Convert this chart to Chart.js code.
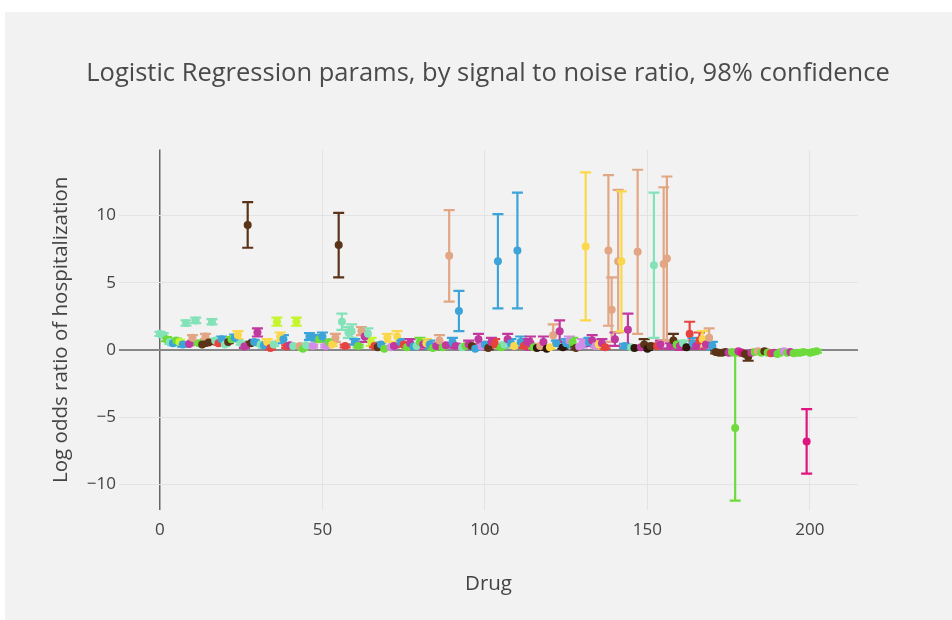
<!DOCTYPE html>
<html>
<head>
<meta charset="utf-8">
<script src="https://cdn.jsdelivr.net/npm/chart.js@4"></script>
<style>
  html, body { margin: 0; padding: 0; background: #fff; }
  #wrap { width: 952px; height: 620px; }
</style>
</head>
<body>
<div id="wrap"><canvas id="oddsChart" width="952" height="620"></canvas></div>
<script>
// drug index along x
const drugs = [
  0, 1, 2, 3, 4, 5, 6, 7, 8, 9, 10, 11, 12, 13, 14, 15, 16, 17, 18, 19,
  20, 21, 22, 23, 24, 25, 26, 27, 28, 29, 30, 31, 32, 33, 34, 35, 36, 37, 38, 39,
  40, 41, 42, 43, 44, 45, 46, 47, 48, 49, 50, 51, 52, 53, 54, 55, 56, 57, 58, 59,
  60, 61, 62, 63, 64, 65, 66, 67, 68, 69, 70, 71, 72, 73, 74, 75, 76, 77, 78, 79,
  80, 81, 82, 83, 84, 85, 86, 87, 88, 89, 90, 91, 92, 93, 94, 95, 96, 97, 98, 99,
  100, 101, 102, 103, 104, 105, 106, 107, 108, 109, 110, 111, 112, 113, 114, 115, 116, 117, 118, 119,
  120, 121, 122, 123, 124, 125, 126, 127, 128, 129, 130, 131, 132, 133, 134, 135, 136, 137, 138, 139,
  140, 141, 142, 143, 144, 145, 146, 147, 148, 149, 150, 151, 152, 153, 154, 155, 156, 157, 158, 159,
  160, 161, 162, 163, 164, 165, 166, 167, 168, 169, 170, 171, 172, 173, 174, 175, 176, 177, 178, 179,
  180, 181, 182, 183, 184, 185, 186, 187, 188, 189, 190, 191, 192, 193, 194, 195, 196, 197, 198, 199,
  200, 201, 202
];

// log odds estimate per drug
const logOdds = [
  1.2, 1.1, 0.8, 0.6, 0.5, 0.7, 0.6, 0.4, 2.0, 0.45, 0.9, 2.2, 0.5, 0.4, 1.0, 0.55, 2.1, 0.7, 0.5, 0.8,
  0.4, 0.6, 0.8, 0.9, 1.1, 0.5, 0.25, 9.3, 0.5, 0.6, 1.3, 0.4, 0.35, 0.6, 0.15, 0.4, 2.1, 1.0, 0.8, 0.25,
  0.35, 0.3, 2.1, 0.3, 0.1, 0.35, 1.0, 0.3, 0.9, 0.8, 1.0, 0.3, 0.6, 0.4, 0.9, 7.8, 2.1, 0.3, 1.3, 1.4,
  0.6, 0.3, 1.4, 1.0, 1.2, 0.6, 0.3, 0.2, 0.4, 0.1, 0.9, 0.2, 0.3, 1.0, 0.6, 0.4, 0.2, 0.5, 0.25, 0.3,
  0.6, 0.4, 0.5, 0.4, 0.15, 0.3, 0.7, 0.2, 0.35, 7.0, 0.6, 0.3, 2.9, 0.2, 0.3, 0.4, 0.3, 0.1, 0.8, 0.25,
  0.4, 0.15, 0.6, 0.5, 6.6, 0.2, 0.4, 0.8, 0.5, 0.3, 7.4, 0.6, 0.3, 0.6, 0.5, 0.2, 0.15, 0.3, 0.6, 0.1,
  0.2, 1.1, 0.5, 1.4, 0.2, 0.5, 0.7, 0.6, 0.15, 0.25, 0.5, 7.7, 0.6, 0.7, 0.3, 0.4, 0.5, 0.2, 7.4, 3.0,
  0.8, 6.6, 6.6, 0.3, 1.5, 0.2, 0.15, 7.3, 0.2, 0.4, 0.1, 0.3, 6.3, 0.3, 0.4, 6.4, 6.8, 0.3, 0.7, 0.4,
  0.3, 0.5, 0.2, 1.2, 0.5, 0.3, 0.7, 0.8, 0.4, 0.9, 0.3, -0.15, -0.2, -0.2, -0.15, -0.2, -0.15, -5.8, -0.1, -0.2,
  -0.3, -0.5, -0.2, -0.15, -0.1, -0.2, -0.1, -0.2, -0.25, -0.2, -0.3, -0.15, -0.1, -0.2, -0.15, -0.25, -0.2, -0.2, -0.15, -6.8,
  -0.2, -0.15, -0.1
];

// half width of the 98% interval
const halfWidth = [
  0.15, 0.15, 0.15, 0.15, 0.15, 0.15, 0.15, 0.15, 0.2, 0.1, 0.2, 0.2, 0.1, 0.1, 0.2, 0.1, 0.2, 0.15, 0.1, 0.2,
  0.1, 0.1, 0.15, 0.25, 0.3, 0.1, 0.1, 1.7, 0.1, 0.15, 0.3, 0.1, 0.15, 0.2, 0.1, 0.1, 0.3, 0.3, 0.3, 0.1,
  0.1, 0.1, 0.3, 0.1, 0.1, 0.1, 0.25, 0.1, 0.2, 0.2, 0.3, 0.1, 0.15, 0.1, 0.3, 2.4, 0.6, 0.1, 0.4, 0.5,
  0.2, 0.1, 0.3, 0.4, 0.4, 0.3, 0.1, 0.1, 0.15, 0.1, 0.3, 0.1, 0.1, 0.4, 0.2, 0.15, 0.1, 0.3, 0.1, 0.1,
  0.3, 0.3, 0.3, 0.3, 0.1, 0.15, 0.4, 0.1, 0.15, 3.4, 0.3, 0.15, 1.5, 0.1, 0.1, 0.3, 0.1, 0.1, 0.4, 0.1,
  0.15, 0.1, 0.3, 0.3, 3.5, 0.1, 0.15, 0.4, 0.3, 0.1, 4.3, 0.4, 0.15, 0.2, 0.5, 0.1, 0.1, 0.15, 0.4, 0.1,
  0.1, 0.8, 0.2, 0.8, 0.1, 0.3, 0.3, 0.3, 0.1, 0.1, 0.3, 5.5, 0.3, 0.4, 0.1, 0.3, 0.3, 0.1, 5.6, 2.4,
  0.5, 5.3, 5.2, 0.15, 1.2, 0.1, 0.1, 6.1, 0.1, 0.4, 0.1, 0.15, 5.4, 0.15, 0.3, 5.7, 6.1, 0.2, 0.5, 0.2,
  0.3, 0.2, 0.1, 0.9, 0.4, 0.2, 0.6, 0.6, 0.3, 0.7, 0.3, 0.1, 0.1, 0.1, 0.1, 0.1, 0.1, 5.4, 0.1, 0.1,
  0.1, 0.3, 0.1, 0.1, 0.1, 0.1, 0.1, 0.1, 0.1, 0.1, 0.1, 0.1, 0.1, 0.1, 0.1, 0.1, 0.1, 0.1, 0.1, 2.4,
  0.1, 0.1, 0.1
];

// colour key per drug (style, see palette below)
const colorKeys = [
  'LG','LG','GR','LG','BL','GR','CH','BL','LG','MA','SA','LG','GR','BR','SA','BR','LG','LG','RE','BL',
  'LG','BR','GR','BL','YE','LG','MA','BR','BR','BL','MA','LG','BL','YE','RE','LG','CH','YE','BL','RE',
  'MA','LG','CH','SA','GR','LG','BL','LV','BL','GR','BL','LV','GR','YE','SA','BR','LG','RE','LG','LG',
  'BL','GR','SA','MA','LG','CH','RE','BR','BL','GR','YE','LV','MA','YE','BL','RE','GR','MA','BL','LG',
  'GR','MA','YE','BL','GR','MA','SA','GR','MA','SA','BL','MA','BL','LG','GR','MA','BR','BL','MA','LV',
  'BL','BR','MA','RE','BL','GR','LG','MA','BL','YE','BL','BL','RE','MA','MA','GR','BK','SA','MA','BK',
  'YE','SA','BL','MA','BK','BL','LV','GR','BR','LV','LV','YE','BL','MA','LV','YE','MA','RE','SA','SA',
  'MA','SA','YE','BL','MA','LG','BK','SA','MA','BR','BK','BR','LG','RE','MA','SA','SA','MA','BR','GR',
  'MA','LG','BK','RE','BL','MA','RE','YE','MA','SA','BL','BR','BR','BR','BR','MA','GR','GR','MA','PK',
  'BR','BR','MA','GR','SA','GR','BR','GR','RE','MA','GR','GR','LV','GR','MA','GR','GR','GR','GR','PK',
  'GR','GR','GR'
];

const palette = {
  LG: '#84e2b9', GR: '#6edb3c', BR: '#5b3418', SA: '#e2a684', BL: '#3ca4d8', YE: '#fbd84b',
  MA: '#c1389f', RE: '#e8423f', PK: '#e0147f', CH: '#c6f52f', LV: '#d38de6', BK: '#2c170a'
};

const xTicks = [0, 50, 100, 150, 200];
const yTicks = [-10, -5, 0, 5, 10];
const yTickLabels = ['\u221210', '\u22125', '0', '5', '10'];

const pointColors = colorKeys.map(k => palette[k]);

// paper background like the original figure
const paperBg = {
    id: 'paperBg',
    beforeDraw(chart) {
        const ctx = chart.ctx;
        ctx.save();
        ctx.fillStyle = '#ffffff';
        ctx.fillRect(0, 0, chart.width, chart.height);
        ctx.fillStyle = '#f2f2f2';
        ctx.fillRect(5, 12, chart.width - 5, chart.height - 12);
        ctx.restore();
    }
};

// error bars with caps, drawn under the markers
const errorBars = {
    id: 'errorBars',
    beforeDatasetsDraw(chart) {
        const ctx = chart.ctx;
        const xs = chart.scales.x, ys = chart.scales.y;
        const area = chart.chartArea;
        ctx.save();
        ctx.beginPath();
        ctx.rect(area.left, area.top, area.right - area.left, area.bottom - area.top);
        ctx.clip();
        ctx.lineWidth = 2.2;
        drugs.forEach((d, i) => {
            const px = xs.getPixelForValue(d);
            const top = ys.getPixelForValue(logOdds[i] + halfWidth[i]);
            const bot = ys.getPixelForValue(logOdds[i] - halfWidth[i]);
            ctx.strokeStyle = pointColors[i];
            ctx.beginPath();
            ctx.moveTo(px, top); ctx.lineTo(px, bot);
            ctx.moveTo(px - 5.5, top); ctx.lineTo(px + 5.5, top);
            ctx.moveTo(px - 5.5, bot); ctx.lineTo(px + 5.5, bot);
            ctx.stroke();
        });
        ctx.restore();
    }
};

const textColor = '#444';

new Chart(document.getElementById('oddsChart').getContext('2d'), {
    type: 'scatter',
    data: {
        datasets: [{
            label: 'Log odds ratio',
            data: drugs.map((d, i) => ({ x: d, y: logOdds[i] })),
            pointRadius: 4,
            pointHoverRadius: 4,
            pointBorderWidth: 0,
            pointBackgroundColor: pointColors,
            pointBorderColor: pointColors
        }]
    },
    options: {
        responsive: false,
        animation: false,
        // title box spans 24..952 so its centre sits over the plot area
        layout: { padding: { top: 0, left: 24, right: 0, bottom: 24 } },
        scales: {
            x: {
                type: 'linear',
                min: -12.6,
                max: 214.8,
                afterBuildTicks: axis => { axis.ticks = xTicks.map(v => ({ value: v })); },
                afterFit: axis => { axis.height = 86; },
                border: { display: false },
                grid: {
                    drawTicks: false,
                    color: ctx => ctx.tick && ctx.tick.value === 0 ? '#666' : '#e3e3e3',
                    lineWidth: ctx => ctx.tick && ctx.tick.value === 0 ? 1.5 : 1
                },
                ticks: {
                    padding: 10,
                    color: textColor,
                    font: { family: 'Open Sans', size: 17 },
                    callback: v => String(v)
                },
                title: {
                    display: true,
                    text: 'Drug',
                    color: textColor,
                    font: { family: 'Open Sans', size: 20.5 },
                    padding: { top: 30, bottom: 0 }
                }
            },
            y: {
                type: 'linear',
                min: -11.9,
                max: 14.9,
                afterBuildTicks: axis => { axis.ticks = yTicks.map(v => ({ value: v })); },
                afterFit: axis => { axis.width = 95; },
                border: { display: false },
                grid: {
                    drawTicks: false,
                    color: ctx => ctx.tick && ctx.tick.value === 0 ? '#888' : '#e3e3e3',
                    lineWidth: ctx => ctx.tick && ctx.tick.value === 0 ? 2 : 1
                },
                ticks: {
                    padding: 3,
                    color: textColor,
                    font: { family: 'Open Sans', size: 17 },
                    callback: v => yTickLabels[yTicks.indexOf(v)]
                },
                title: {
                    display: true,
                    text: 'Log odds ratio of hospitalization',
                    color: textColor,
                    font: { family: 'Open Sans', size: 20.5 },
                    padding: { top: 25, bottom: 12 }
                }
            },
            // empty right margin of the plot
            yRight: {
                type: 'linear',
                position: 'right',
                afterFit: axis => { axis.width = 94; },
                border: { display: false },
                grid: { display: false, drawOnChartArea: false },
                ticks: { display: false }
            }
        },
        plugins: {
            legend: { display: false },
            tooltip: { enabled: false },
            title: {
                display: true,
                text: 'Logistic Regression params, by signal to noise ratio, 98% confidence',
                color: '#4a4a4a',
                font: { family: 'Open Sans', size: 25.5, weight: 'normal' },
                padding: { top: 58, bottom: 61 }
            }
        }
    },
    plugins: [paperBg, errorBars]
});
</script>
</body>
</html>
